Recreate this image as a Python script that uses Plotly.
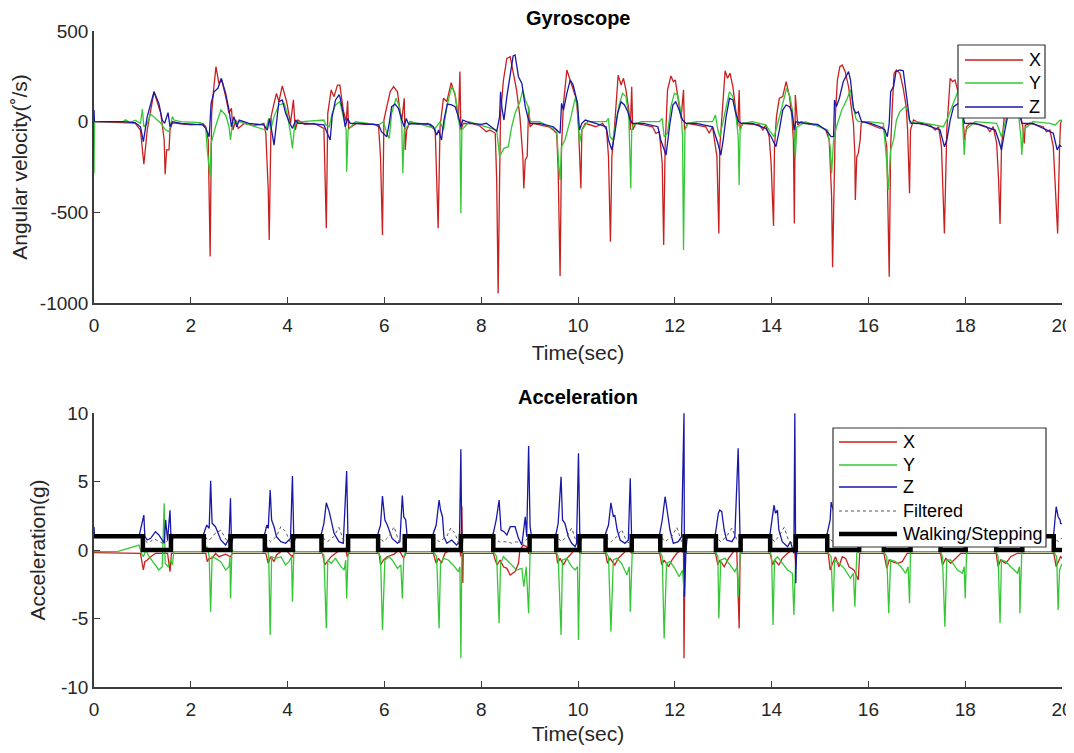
import plotly.graph_objects as go

# ---------------- Gyroscope data (deg/s) ----------------
gx_t = [0.00,0.60,0.85,0.96,1.03,1.10,1.24,1.38,1.45,1.47,1.50,1.55,1.57,1.62,1.75,2.00,2.15,2.25,
        2.31,2.36,2.40,2.43,2.47,2.52,2.58,2.64,2.72,2.79,2.84,2.87,2.93,2.98,3.10,3.30,3.45,
        3.51,3.55,3.60,3.62,3.66,3.72,3.77,3.82,3.89,3.98,4.06,4.12,4.16,4.21,4.35,4.55,
        4.75,4.80,4.83,4.90,4.96,5.03,5.08,5.15,5.21,5.24,5.26,5.32,5.43,5.60,5.80,
        5.88,5.92,5.96,5.99,6.05,6.12,6.19,6.27,6.32,6.36,6.41,6.43,6.46,6.53,6.70,6.90,
        7.05,7.08,7.11,7.15,7.22,7.29,7.38,7.46,7.53,7.56,7.58,7.63,7.80,7.95,
        8.11,8.18,8.29,8.32,8.35,8.38,8.40,8.46,8.53,8.60,8.66,8.73,8.80,8.86,8.88,8.91,8.95,8.98,9.01,9.08,9.25,9.40,
        9.49,9.56,9.59,9.63,9.66,9.70,9.77,9.84,9.90,9.97,10.01,10.03,10.06,10.08,10.15,
        10.37,10.51,10.59,10.63,10.67,10.70,10.75,10.80,10.83,10.89,10.94,10.99,11.05,11.08,11.11,11.13,11.20,11.35,
        11.54,11.61,11.68,11.74,11.77,11.80,11.85,11.92,11.97,12.01,12.08,12.13,12.18,12.20,12.27,12.45,
        12.64,12.71,12.78,12.87,12.91,12.93,12.99,13.04,13.09,13.14,13.20,13.26,13.30,13.33,13.35,13.40,13.60,
        13.75,13.82,13.88,13.95,13.99,14.04,14.06,14.10,14.16,14.23,14.30,14.37,14.42,14.45,14.47,14.49,14.54,14.61,14.80,14.95,
        15.12,15.19,15.24,15.26,15.29,15.32,15.36,15.41,15.46,15.52,15.59,15.63,15.69,15.72,15.73,15.76,15.79,15.83,15.85,15.90,16.05,
        16.24,16.31,16.38,16.43,16.46,16.49,16.53,16.58,16.65,16.72,16.78,16.81,16.85,16.87,16.93,17.10,
        17.27,17.38,17.45,17.51,17.57,17.62,17.69,17.74,17.79,17.86,17.93,17.96,17.99,18.03,18.10,18.30,
        18.44,18.51,18.58,18.65,18.69,18.72,18.75,18.82,18.93,19.03,19.13,19.19,19.22,19.24,19.34,19.50,
        19.61,19.68,19.75,19.82,19.86,19.91,19.95,19.97,20.00]
gx_v = [0,-3,-8,-46,-235,-46,165,46,-101,-290,-156,-156,-46,-6,-10,-18,-15,-10,
        -28,-101,-744,46,175,303,211,230,138,46,74,-46,9,-37,-10,-20,-15,
        -9,-64,-377,-652,28,101,156,110,197,110,-9,120,-46,9,-15,-10,
        -37,-588,46,175,138,202,202,64,0,115,-37,-28,-9,-15,-15,
        -28,-193,-625,9,83,165,193,165,64,9,129,-156,-46,0,-15,-10,
        -46,-267,-588,-28,129,110,215,147,9,276,-46,-9,-10,-20,
        -55,-46,-64,-322,-947,-322,46,230,349,358,267,175,28,-193,-368,-211,-193,83,-28,-9,-20,-28,
        -46,-64,-267,-851,-138,101,285,230,184,120,-28,-175,-368,-46,-9,
        -28,-9,-46,-193,-662,-193,-46,156,257,202,239,175,64,-46,193,-46,-9,-18,
        -28,-64,-55,-230,-680,-138,175,252,221,230,120,18,175,-46,-9,-18,
        -28,-64,-28,-193,-616,-138,120,281,239,267,193,64,-28,175,-46,-9,-15,
        -18,-46,-18,-83,-230,-575,-138,28,129,138,221,138,28,-101,-561,147,-18,0,-15,-20,
        -46,-101,-414,-803,-230,46,230,303,312,276,193,101,-9,-175,-432,-193,-175,-101,-9,0,-15,
        -37,-28,-138,-855,-138,64,267,285,267,184,83,-46,-395,-46,9,-15,
        -18,-46,-28,-138,-616,-46,239,221,230,156,64,0,-101,-28,-9,-15,
        -28,-55,-28,-119,-322,-564,-138,64,230,193,64,-28,-120,-20,-9,-18,
        -28,-55,-46,-138,-322,-616,-138,-9,10]

gy_t = [0.00,0.01,0.60,0.65,0.75,0.85,0.96,1.00,1.03,1.10,1.17,1.27,1.38,1.48,1.55,1.62,1.65,1.80,2.20,
        2.31,2.34,2.40,2.42,2.51,2.62,2.72,2.79,2.82,2.86,3.00,
        3.55,3.61,3.65,3.72,3.82,3.93,3.99,4.06,4.10,4.15,4.30,
        4.75,4.79,4.86,4.92,4.99,5.08,5.15,5.21,5.22,5.25,5.40,
        5.88,5.98,6.05,6.10,6.15,6.24,6.31,6.36,6.38,6.41,6.55,
        7.05,7.15,7.22,7.29,7.39,7.46,7.53,7.56,7.58,7.60,7.75,
        8.32,8.38,8.42,8.47,8.56,8.63,8.70,8.80,8.86,8.91,8.97,9.01,9.20,
        9.56,9.60,9.63,9.66,9.73,9.84,9.94,9.99,10.03,10.08,10.20,
        10.58,10.63,10.66,10.72,10.79,10.85,10.92,10.99,11.05,11.07,11.09,11.11,11.14,11.30,
        11.68,11.74,11.78,11.85,11.92,11.99,12.06,12.13,12.16,12.18,12.21,12.27,12.45,
        12.78,12.84,12.89,12.93,13.02,13.13,13.20,13.26,13.31,13.33,13.35,13.40,13.60,
        13.88,13.95,14.05,14.11,14.23,14.31,14.38,14.43,14.47,14.49,14.52,14.70,
        15.16,15.21,15.24,15.28,15.34,15.45,15.55,15.63,15.69,15.74,15.79,16.00,
        16.31,16.38,16.41,16.46,16.52,16.58,16.65,16.76,16.81,16.86,17.00,
        17.55,17.65,17.76,17.86,17.93,17.96,17.98,18.01,18.20,
        18.65,18.75,18.82,18.93,19.03,19.10,19.15,19.17,19.20,19.40,
        19.75,19.86,19.96,20.00]
gy_v = [-285,0,0,10,-5,8,-10,70,-28,-9,42,18,-9,-46,-55,28,9,0,-5,
        -37,-156,-303,-119,-28,64,37,-28,-101,-9,0,
        -46,18,-46,28,92,101,46,-64,-147,-9,0,
        9,-18,-28,46,92,110,28,-46,-276,-46,0,
        -18,0,-64,-92,46,129,83,-28,-285,-46,0,
        -37,0,-46,83,193,156,28,-46,-505,-46,0,
        -46,-193,-175,-147,-138,-28,46,110,175,120,83,0,0,
        -46,-230,-322,-138,-101,9,129,83,-120,-46,0,
        0,18,-83,-101,9,92,156,138,28,-119,-368,-46,-18,0,
        0,18,-83,-64,83,156,147,46,-83,-708,-46,-9,0,
        0,37,-46,-83,28,165,138,46,-83,-349,-46,-9,0,
        -18,-46,-83,-28,110,184,138,64,-101,-200,-30,0,
        -46,-138,-285,-101,-28,64,120,175,83,18,0,0,
        -9,-230,-377,-156,-101,9,55,83,64,-9,0,
        -28,28,110,175,101,-46,-184,-46,0,
        -9,-83,-9,101,138,46,-83,-184,-46,0,
        -9,-18,9,0]

gz_t = [0.00,0.01,0.60,0.85,0.96,1.02,1.10,1.24,1.34,1.41,1.46,1.53,1.57,1.62,1.80,2.10,2.25,
        2.31,2.38,2.42,2.48,2.56,2.63,2.72,2.79,2.84,2.89,2.95,3.00,3.20,3.45,
        3.51,3.58,3.63,3.68,3.72,3.77,3.82,3.89,3.96,4.03,4.10,4.17,4.21,4.40,4.65,
        4.75,4.82,4.88,4.92,4.99,5.06,5.08,5.15,5.19,5.24,5.29,5.50,5.80,
        5.88,5.94,5.98,6.05,6.10,6.15,6.22,6.29,6.36,6.41,6.45,6.50,6.70,6.95,
        7.01,7.08,7.12,7.18,7.23,7.30,7.39,7.46,7.53,7.58,7.62,7.80,8.00,
        8.11,8.25,8.32,8.38,8.40,8.43,8.47,8.53,8.60,8.66,8.70,8.77,8.84,8.91,8.97,9.01,9.20,9.40,
        9.49,9.56,9.63,9.66,9.70,9.77,9.84,9.90,9.99,10.03,10.08,10.15,
        10.37,10.58,10.63,10.70,10.75,10.82,10.89,10.96,11.03,11.07,11.12,11.35,
        11.65,11.71,11.82,11.89,11.96,12.02,12.09,12.16,12.23,12.45,
        12.78,12.89,12.95,13.00,13.06,13.13,13.20,13.26,13.32,13.37,13.60,
        13.88,13.99,14.09,14.16,14.23,14.30,14.37,14.42,14.47,14.50,14.70,14.95,
        15.12,15.23,15.28,15.30,15.34,15.40,15.48,15.59,15.63,15.69,15.74,15.79,15.83,15.86,16.05,
        16.24,16.34,16.39,16.43,16.46,16.52,16.57,16.65,16.72,16.79,16.85,16.89,17.10,
        17.48,17.57,17.62,17.69,17.76,17.86,17.93,17.99,18.20,
        18.62,18.69,18.75,18.82,18.89,18.99,19.10,19.17,19.40,
        19.82,19.90,19.95,19.99]
gz_v = [64,0,0,-5,-28,-110,28,165,101,9,-9,50,-28,0,-10,-15,-18,
        -37,-83,101,165,184,239,156,64,-28,28,-28,9,-10,-15,
        -18,-46,18,-64,-129,-9,110,120,46,0,-37,9,-9,-10,-15,
        -18,-64,-101,28,120,147,138,46,-28,18,-9,-10,-15,
        -18,-55,-64,-83,-9,83,97,74,9,-28,18,-13,-10,-15,
        -28,-74,-46,-101,9,97,92,83,28,-28,9,-10,-15,
        -9,-37,-55,28,165,74,9,138,248,362,368,248,211,83,18,-9,-10,-20,
        -28,-46,-64,101,64,156,230,202,101,-46,-9,9,
        -10,-28,-101,-156,-83,46,110,92,55,18,-9,-10,
        -28,-101,-184,-28,92,110,64,9,-9,-10,
        -28,-119,-184,-101,28,129,120,46,0,-9,-10,
        -37,-83,-138,-46,64,92,83,55,-46,0,-10,-15,
        -46,-83,-83,120,83,129,220,276,230,74,46,55,18,0,-10,
        -28,-46,-83,-9,165,193,276,285,281,138,9,-9,-10,
        -46,-138,-101,9,83,101,55,-9,-10,
        -46,-101,-156,-46,46,92,64,-9,-10,
        -64,-156,-129,-138]

# ---------------- Acceleration data (g) ----------------
ax_t = [0.00,0.96,1.02,1.05,1.10,1.17,1.27,1.52,1.57,1.60,
        2.31,2.34,2.38,2.44,2.51,2.58,2.72,2.82,2.86,
        3.55,3.60,3.65,3.72,3.77,3.86,3.96,4.10,4.13,
        4.72,4.77,4.82,4.90,4.99,5.10,5.20,5.23,5.26,
        5.89,5.92,5.98,6.06,6.20,6.30,6.40,6.44,
        7.01,7.07,7.12,7.18,7.25,7.36,7.46,7.56,7.58,7.60,7.62,7.63,
        8.25,8.29,8.33,8.39,8.46,8.53,8.60,8.70,8.77,8.80,8.87,8.94,8.98,
        9.55,9.58,9.63,9.70,9.77,9.87,9.94,10.01,10.04,
        10.57,10.61,10.66,10.76,10.83,10.94,11.04,11.11,
        11.69,11.73,11.78,11.87,11.94,12.04,12.14,12.18,12.19,12.21,
        12.84,12.89,12.93,13.02,13.11,13.21,13.28,13.33,13.35,
        13.97,14.02,14.06,14.15,14.22,14.33,14.43,14.48,14.50,14.52,
        15.17,15.21,15.26,15.32,15.39,15.46,15.53,15.60,15.70,15.79,15.82,
        16.32,16.38,16.43,16.49,16.60,16.70,16.80,16.87,
        17.49,17.53,17.60,17.70,17.80,17.91,18.01,
        18.64,18.68,18.73,18.84,18.94,19.08,19.18,
        19.83,19.88,19.94,19.97,20.00]
ax_v = [-0.19,-0.24,-1.46,-0.85,-0.73,-0.49,-0.24,-0.24,-1.58,-0.24,
        -0.24,-0.85,-0.61,-0.61,-0.24,-0.49,-0.30,-0.49,-0.24,
        -0.24,-0.97,-0.49,-0.85,-0.36,-0.12,0.0,-0.49,-0.24,
        -0.24,-1.09,-0.85,-0.49,-0.24,0.0,0.12,-0.49,-0.24,
        -0.24,-1.09,-0.73,-0.49,-0.30,0.0,-0.61,-0.24,
        -0.24,-0.97,-0.61,-0.97,-0.24,0.0,0.12,0.0,-0.49,3.2,-2.4,-0.24,
        -0.24,-0.73,-1.09,-0.73,-1.22,-1.34,-1.82,-1.58,-0.97,0.0,0.36,0.24,-0.24,
        -0.24,-0.97,-0.61,-1.09,-0.61,-0.24,0.12,0.0,-0.24,
        -0.24,-0.97,-0.61,-1.09,-0.61,-0.24,0.12,-0.24,
        -0.24,-1.09,-0.73,-1.22,-0.73,-0.24,0.0,-0.24,-7.91,-0.24,
        -0.24,-1.09,-0.73,-1.22,-0.61,-0.12,0.0,-5.72,-0.24,
        -0.24,-1.09,-0.73,-1.09,-0.61,-0.24,0.0,-0.24,-1.22,-0.24,
        -0.24,-1.46,-0.97,-0.49,-1.22,-0.49,-0.61,-1.22,-1.46,-2.19,-0.24,
        -0.24,-1.34,-0.73,-0.85,-0.97,-0.85,-0.24,-0.24,
        -0.24,-1.09,-0.61,-0.97,-0.61,-0.24,-0.24,
        -0.24,-1.22,-0.73,-0.97,-0.49,-0.24,-0.24,
        -0.24,-1.22,-0.73,-0.49,-0.60]

ay_t = [0.00,0.50,0.93,0.98,1.02,1.07,1.14,1.24,1.34,1.41,1.45,1.47,1.53,1.58,1.62,1.65,
        2.27,2.34,2.38,2.41,2.44,2.51,2.62,2.72,2.79,2.81,2.82,2.85,2.89,
        3.51,3.58,3.61,3.64,3.67,3.75,3.86,3.96,4.03,4.08,4.10,4.13,4.17,
        4.68,4.75,4.80,4.83,4.90,4.99,5.10,5.17,5.20,5.22,5.25,
        5.85,5.92,5.96,6.01,6.10,6.16,6.27,6.34,6.37,6.40,6.44,
        7.01,7.08,7.13,7.16,7.22,7.32,7.42,7.53,7.56,7.58,7.60,7.63,
        8.25,8.32,8.37,8.40,8.46,8.53,8.63,8.73,8.84,8.88,8.93,8.98,9.01,9.04,
        9.55,9.59,9.65,9.68,9.77,9.87,9.94,9.99,10.01,10.04,10.08,
        10.57,10.63,10.68,10.73,10.80,10.90,11.01,11.06,11.08,11.12,11.14,
        11.69,11.74,11.78,11.83,11.90,12.00,12.09,12.16,12.19,12.21,12.26,
        12.84,12.89,12.91,12.95,13.04,13.14,13.24,13.29,13.31,13.35,13.38,
        13.97,14.00,14.03,14.06,14.12,14.22,14.33,14.43,14.46,14.50,14.53,
        15.15,15.23,15.27,15.30,15.39,15.50,15.63,15.69,15.72,15.76,15.81,
        16.32,16.38,16.42,16.46,16.56,16.67,16.77,16.82,16.85,16.87,
        17.49,17.53,17.58,17.62,17.70,17.84,17.94,17.98,18.00,18.03,
        18.64,18.68,18.72,18.75,18.84,18.94,19.08,19.12,19.13,19.17,
        19.83,19.89,19.92,19.95,19.97,20.00]
ay_v = [-0.12,-0.10,0.36,-0.24,-0.49,0.0,-0.49,-0.97,-1.46,-1.22,3.41,-0.97,-1.22,-0.73,-1.09,-0.12,
        -0.12,0.24,-0.49,-4.50,-0.49,-0.61,-0.85,-1.46,-1.22,-0.49,-3.53,0.0,-0.12,
        -0.12,0.24,-0.49,-6.20,-0.49,-0.61,-0.49,-1.09,-0.85,-0.49,-3.77,0.0,-0.12,
        -0.12,-0.36,-5.72,-0.73,-0.97,-0.61,-1.22,-1.46,-0.73,-3.53,-0.12,
        -0.12,-0.49,-5.84,-0.73,-0.49,-0.73,-1.34,-1.09,-3.53,-0.49,-0.12,
        -0.12,-0.49,-5.72,-0.97,-0.61,-0.73,-1.09,-1.58,-1.22,-7.91,-0.24,-0.12,
        -0.12,-0.49,-5.35,-0.97,-0.49,-0.73,-1.09,-1.46,-1.34,-2.68,-1.22,-4.62,-0.24,-0.12,
        -0.12,-0.49,-6.20,-0.73,-0.61,-1.22,-1.46,-1.22,-6.57,-0.24,-0.12,
        -0.12,-0.49,-5.96,-0.73,-0.61,-0.97,-1.82,-1.22,-4.50,-0.24,-0.12,
        -0.12,-0.49,-6.45,-0.97,-0.85,-1.34,-1.95,-1.46,-3.00,-0.24,-0.12,
        -0.12,-0.49,-4.99,-0.73,-0.61,-1.09,-1.58,-1.22,-3.41,-0.24,-0.12,
        -0.12,-0.49,-5.47,-0.73,-0.49,-0.97,-1.46,-1.70,-4.74,-0.24,-0.12,
        -0.12,-0.49,-4.50,-0.73,-0.97,-1.34,-2.07,-1.70,-4.14,-0.24,-0.12,
        -0.12,-0.49,-4.62,-0.73,-0.85,-1.22,-1.70,-1.22,-3.89,-0.12,
        -0.12,-0.49,-5.60,-0.73,-0.73,-1.46,-1.70,-1.22,-3.53,-0.12,
        -0.12,-0.49,-5.35,-0.73,-0.85,-1.22,-1.70,-1.22,-4.62,-0.12,
        -0.12,-0.49,-4.38,-1.46,-1.22,-1.00]

az_t = [0.00,0.01,0.93,1.00,1.03,1.05,1.10,1.17,1.27,1.34,1.45,1.48,1.52,1.57,1.60,1.63,
        2.25,2.27,2.33,2.38,2.41,2.44,2.51,2.62,2.72,2.79,2.82,2.84,2.88,
        3.50,3.53,3.57,3.60,3.64,3.67,3.72,3.77,3.86,3.96,4.06,4.10,4.13,4.17,
        4.68,4.70,4.75,4.80,4.86,4.90,4.96,5.06,5.15,5.22,5.25,5.28,
        5.85,5.87,5.92,5.96,6.01,6.06,6.16,6.27,6.32,6.37,6.40,6.44,6.47,
        6.99,7.01,7.07,7.13,7.16,7.20,7.23,7.29,7.39,7.49,7.55,7.58,7.60,7.62,
        8.23,8.25,8.31,8.37,8.41,8.47,8.53,8.60,8.70,8.77,8.84,8.91,8.94,8.98,9.01,9.04,
        9.53,9.55,9.59,9.65,9.68,9.73,9.80,9.87,9.94,9.97,10.01,10.04,10.08,
        10.55,10.57,10.63,10.68,10.73,10.76,10.81,10.87,10.97,11.04,11.08,11.11,11.14,
        11.67,11.69,11.74,11.80,11.85,11.90,11.97,12.07,12.14,12.19,12.20,12.23,12.26,
        12.82,12.84,12.90,12.93,12.97,13.02,13.07,13.18,13.24,13.31,13.35,13.38,
        13.95,13.97,14.02,14.05,14.08,14.12,14.15,14.22,14.33,14.39,14.46,14.48,14.50,14.52,
        15.13,15.15,15.21,15.23,15.29,15.39,15.50,15.60,15.70,15.79,15.82,
        16.30,16.32,16.39,16.49,16.60,16.74,16.84,16.87,
        17.47,17.49,17.56,17.67,17.90,17.99,18.01,
        18.62,18.64,18.70,18.80,19.08,19.16,19.18,
        19.81,19.83,19.88,19.92,19.96,19.97,20.00]
az_v = [1.70,1.00,1.00,1.95,2.55,1.00,0.73,0.85,1.34,1.10,0.50,2.20,0.73,2.90,0.00,1.00,
        1.00,1.22,1.82,1.58,5.06,1.95,1.70,0.73,0.36,0.85,3.77,0.49,1.00,
        1.00,1.22,1.82,1.58,4.38,2.19,1.70,0.97,0.61,0.49,0.85,5.40,0.49,1.00,
        1.00,1.22,1.95,3.45,2.80,2.19,1.22,0.61,0.49,5.77,0.49,1.00,
        1.00,1.22,1.82,3.94,2.19,1.82,0.85,0.49,0.61,3.97,2.43,2.19,1.00,
        1.00,1.22,1.82,3.65,2.92,2.43,0.97,0.49,0.73,0.36,0.61,7.35,-0.24,1.00,
        1.00,1.22,2.19,3.65,1.46,1.34,1.09,1.70,1.70,0.85,0.36,2.43,0.97,7.59,1.70,1.00,
        1.00,1.22,1.95,5.35,2.19,1.95,0.97,0.49,0.24,0.49,7.06,0.49,1.00,
        1.00,1.22,1.82,3.45,2.43,2.55,1.46,0.73,0.49,0.73,5.23,0.49,1.00,
        1.00,1.22,2.19,3.89,2.68,1.46,0.49,0.61,0.97,9.98,-3.41,0.00,1.00,
        1.00,1.22,2.68,2.92,2.80,1.46,0.73,0.61,0.97,7.42,0.49,1.00,
        1.00,1.22,2.43,3.28,2.68,2.92,1.46,0.61,0.24,0.61,-0.24,9.98,-2.43,1.00,
        1.00,1.22,2.19,3.50,2.68,1.60,1.00,0.61,0.49,2.19,1.00,
        1.00,1.22,2.43,1.00,0.70,0.49,2.43,1.00,
        1.00,1.22,2.43,0.73,0.49,2.19,1.00,
        1.00,1.22,2.19,0.73,0.49,2.19,1.00,
        1.00,1.22,3.16,2.43,2.19,1.95,1.90]

filt_t = [0.00,1.01,1.10,1.25,1.41,1.50,1.59,
          2.27,2.38,2.50,2.62,2.72,2.80,2.82,
          3.53,3.65,3.77,3.86,3.96,4.06,4.11,
          4.70,4.82,4.96,5.06,5.15,5.22,5.25,
          5.87,5.98,6.10,6.20,6.30,6.40,6.42,
          7.01,7.13,7.29,7.37,7.46,7.53,7.58,
          8.25,8.37,8.53,8.63,8.73,8.87,9.00,
          9.55,9.66,9.77,9.87,9.94,10.01,10.03,
          10.57,10.68,10.81,10.90,11.01,11.08,11.11,
          11.70,11.80,11.94,12.04,12.14,12.18,12.20,
          12.85,12.95,13.07,13.18,13.28,13.33,13.36,
          13.97,14.06,14.15,14.26,14.36,14.46,14.50,
          15.15,15.27,15.45,15.55,15.68,15.78,15.81,
          16.32,16.43,16.58,16.68,16.78,16.85,16.87,
          17.49,17.58,17.72,17.82,17.92,17.99,18.01,
          18.64,18.73,18.88,18.98,19.08,19.15,19.18,
          19.83,19.92,20.00]
filt_v = [1.0,1.0,0.5,0.8,0.5,0.6,1.0,
          1.0,0.7,1.2,1.45,0.8,0.5,1.0,
          1.0,0.6,1.0,1.7,1.35,0.5,1.0,
          1.0,0.6,1.0,1.65,0.75,0.5,1.0,
          1.0,0.6,1.0,1.7,0.6,0.5,1.0,
          1.0,0.6,1.0,1.6,1.2,0.5,1.0,
          1.0,0.6,0.6,0.5,0.6,0.5,1.0,
          1.0,0.6,1.0,1.6,0.85,0.5,1.0,
          1.0,0.6,1.0,1.5,0.6,0.5,1.0,
          1.0,0.6,1.0,1.65,0.6,0.5,1.0,
          1.0,0.6,1.0,1.6,0.75,0.5,1.0,
          1.0,0.6,1.0,1.65,0.6,0.5,1.0,
          1.0,0.6,1.0,1.6,0.6,0.5,1.0,
          1.0,0.6,1.0,1.6,0.6,0.5,1.0,
          1.0,0.6,1.0,1.6,0.6,0.5,1.0,
          1.0,0.6,1.0,1.6,0.6,0.5,1.0,
          1.0,0.6,0.9]

# Walking/Stepping state: value held from each time until the next one
step_t = [0.00,1.01,1.59,2.27,2.82,3.53,4.11,4.70,5.25,5.87,6.42,7.01,7.58,8.25,9.00,9.55,10.03,
          10.57,11.11,11.70,12.20,12.85,13.36,13.97,14.50,15.15,15.81,16.32,16.87,17.49,18.01,
          18.64,19.18,19.83,20.00]
step_v = [1,0,1,0,1,0,1,0,1,0,1,0,1,0,1,0,1,0,1,0,1,0,1,0,1,0,1,0,1,0,1,0,1,0,0]

x_ticks = [0, 2, 4, 6, 8, 10, 12, 14, 16, 18, 20]
gyro_ticks = [-1000, -500, 0, 500]
acc_ticks = [-10, -5, 0, 5, 10]

RED, GREEN, BLUE = "#C8201E", "#35C835", "#1818A8"
AX = "#3C3C3C"
FONT = "Liberation Sans, Arial, sans-serif"

# The page places the figure 8 px from the window's top-left corner (body margin).
OFF = 8
W, H = 1074 - OFF, 753 - 2 * OFF
def px(x): return (x - OFF) / W
def py(y): return 1 - (y - OFF) / H

fig = go.Figure()
lw = 1.3
fig.add_trace(go.Scatter(x=gx_t, y=gx_v, mode="lines", line=dict(color=RED, width=lw), name="X", xaxis="x", yaxis="y"))
fig.add_trace(go.Scatter(x=gy_t, y=gy_v, mode="lines", line=dict(color=GREEN, width=lw), name="Y", xaxis="x", yaxis="y"))
fig.add_trace(go.Scatter(x=gz_t, y=gz_v, mode="lines", line=dict(color=BLUE, width=lw), name="Z", xaxis="x", yaxis="y"))

fig.add_trace(go.Scatter(x=ax_t, y=ax_v, mode="lines", line=dict(color=RED, width=lw), name="X", xaxis="x2", yaxis="y2"))
fig.add_trace(go.Scatter(x=ay_t, y=ay_v, mode="lines", line=dict(color=GREEN, width=lw), name="Y", xaxis="x2", yaxis="y2"))
fig.add_trace(go.Scatter(x=az_t, y=az_v, mode="lines", line=dict(color=BLUE, width=lw), name="Z", xaxis="x2", yaxis="y2"))
fig.add_trace(go.Scatter(x=filt_t, y=filt_v, mode="lines", line=dict(color="#555555", width=1, dash="dot"), name="Filtered", xaxis="x2", yaxis="y2"))
fig.add_trace(go.Scatter(x=step_t, y=step_v, mode="lines", line=dict(color="black", width=4.5, shape="hv"), name="Walking/Stepping", xaxis="x2", yaxis="y2"))

xd = [px(94), px(1062)]
axis_common = dict(showgrid=False, zeroline=False, showline=True, linecolor=AX, linewidth=1.5,
                   ticks="inside", ticklen=6, tickwidth=1.2, tickcolor=AX, automargin=False,
                   ticklabeloverflow="allow",
                   tickfont=dict(family=FONT, size=19, color="#262626"), mirror=False)
x_lbl = [str(v) for v in x_ticks]
g_lbl = [str(v) for v in gyro_ticks]
a_lbl = [str(v) for v in acc_ticks]

fig.update_layout(
    width=W, height=H, margin=dict(l=0, r=0, t=0, b=0),
    paper_bgcolor="white", plot_bgcolor="white", showlegend=False,
    font=dict(family=FONT, color="#262626"),
    xaxis=dict(domain=xd, range=[0, 20], tickvals=x_ticks, ticktext=x_lbl, anchor="y", ticklabelstandoff=4,
               title=dict(text="Time(sec)", font=dict(size=21), standoff=11), **axis_common),
    yaxis=dict(domain=[py(303), py(31)], range=[-1000, 500], tickvals=gyro_ticks, ticktext=g_lbl, anchor="x",
               title=dict(text="Angular velocity(˚/s)", font=dict(size=21), standoff=7), **axis_common),
    xaxis2=dict(domain=xd, range=[0, 20], tickvals=x_ticks, ticktext=x_lbl, anchor="y2", ticklabelstandoff=4,
                title=dict(text="Time(sec)", font=dict(size=21), standoff=9), **axis_common),
    yaxis2=dict(domain=[py(687), py(413)], range=[-10, 10], tickvals=acc_ticks, ticktext=a_lbl, anchor="x2",
                title=dict(text="Acceleration(g)", font=dict(size=21), standoff=10), **axis_common),
)

annotations = [
    dict(text="<b>Gyroscope</b>", x=px(578), y=py(18), xref="paper", yref="paper", showarrow=False,
         font=dict(size=20, family=FONT, color="black"), xanchor="center", yanchor="middle"),
    dict(text="<b>Acceleration</b>", x=px(578), y=py(397), xref="paper", yref="paper", showarrow=False,
         font=dict(size=20, family=FONT, color="black"), xanchor="center", yanchor="middle"),
]
shapes = []

# Custom legends (MATLAB-style boxes with long line samples)
def legend_box(x0, y0, x1, y1, entries, lx0, lx1, tx):
    shapes.append(dict(type="rect", xref="paper", yref="paper", x0=px(x0), x1=px(x1), y0=py(y1), y1=py(y0),
                       line=dict(color="#333333", width=1.2), fillcolor="white", layer="above"))
    for (yy, label, color, width, dash) in entries:
        shapes.append(dict(type="line", xref="paper", yref="paper", x0=px(lx0), x1=px(lx1), y0=py(yy), y1=py(yy),
                           line=dict(color=color, width=width, dash=dash), layer="above"))
        annotations.append(dict(text=label, x=px(tx), y=py(yy), xref="paper", yref="paper", showarrow=False,
                                xanchor="left", yanchor="middle", font=dict(size=18, family=FONT, color="black")))

legend_box(958, 45, 1045, 118,
           [(60, "X", RED, 1.3, "solid"), (83, "Y", GREEN, 1.3, "solid"), (107, "Z", BLUE, 1.3, "solid")],
           965, 1023, 1027)
legend_box(833, 428, 1046, 547,
           [(442, "X", RED, 1.3, "solid"), (465, "Y", GREEN, 1.3, "solid"), (487, "Z", BLUE, 1.3, "solid"),
            (511, "Filtered", "#555555", 1, "dot"), (534, "Walking/Stepping", "black", 4.5, "solid")],
           839, 897, 901)

fig.update_layout(annotations=annotations, shapes=shapes)
fig.write_html("out.html",
               post_script="document.documentElement.style.overflow='hidden';document.body.style.overflow='hidden';")
